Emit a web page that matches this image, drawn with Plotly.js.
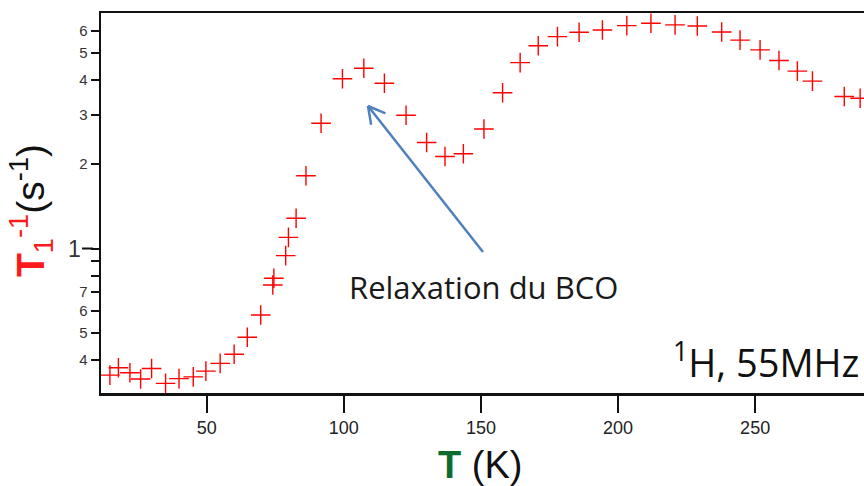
<!DOCTYPE html>
<html>
<head>
<meta charset="utf-8">
<script src="https://cdn.plot.ly/plotly-3.0.1.min.js"></script>
<style>html,body{margin:0;padding:0;background:#fff;}#chart{width:864px;height:486px;}</style>
</head>
<body>
<div id="chart"></div>
<script>
// Temperature (K)
const temperature = [14.7, 17.8, 22.0, 25.9, 29.9, 35.0, 39.9, 45.1, 49.7, 54.9,
  60.0, 64.8, 69.7, 74.1, 74.5, 78.8, 79.8, 82.6, 86.2, 91.7,
  99.5, 107.3, 114.8, 122.7, 130.2, 136.9, 143.6, 151.1, 157.9, 164.3,
  170.9, 177.9, 185.8, 194.3, 203.2, 212.0, 220.8, 228.9, 237.8, 244.5,
  251.8, 258.7, 265.4, 270.9, 282.5, 288.3];
// 1/T1 (s^-1)
const rate = [0.353, 0.375, 0.360, 0.342, 0.373, 0.330, 0.343, 0.348, 0.365, 0.389,
  0.419, 0.482, 0.579, 0.741, 0.783, 0.943, 1.096, 1.282, 1.820, 2.80,
  4.04, 4.40, 3.89, 2.99, 2.39, 2.13, 2.18, 2.67, 3.60, 4.61,
  5.30, 5.71, 5.92, 6.03, 6.25, 6.37, 6.29, 6.23, 5.93, 5.55,
  5.12, 4.69, 4.30, 3.96, 3.49, 3.44];

const xTickVals = [50, 100, 150, 200, 250];
const xTickText = ["50", "100", "150", "200", "250"];
const yTickVals = [0.4, 0.5, 0.6, 0.7, 0.8, 0.9, 1, 2, 3, 4, 5, 6];
const yTickText = ["4", "5", "6", "7", "", "", "", "2", "3", "4", "5", "6"];
const yMajorLabel = "1";

const W = 864, H = 486;
const M = {l: 101, r: 0, t: 13, b: 93};
const pw = W - M.l - M.r, ph = H - M.t - M.b;
const px = x => (x - M.l) / pw;
const py = y => (H - M.b - y) / ph;
const yRange = [-0.516, 0.841];

const arrowColor = '#4f81bd';
const tip = [368, 106], tail = [483, 252];
const dx = tail[0] - tip[0], dy = tail[1] - tip[1];
const len = Math.hypot(dx, dy);
const ux = dx / len, uy = dy / len;
function rot(a) { return [ux * Math.cos(a) - uy * Math.sin(a), ux * Math.sin(a) + uy * Math.cos(a)]; }
const a1 = rot(0.5), a2 = rot(-0.5), armLen = 19;

const oneY = (0 - yRange[0]) / (yRange[1] - yRange[0]);

const shapes = [
  {type: 'line', xref: 'paper', yref: 'paper', x0: px(tail[0]), y0: py(tail[1]), x1: px(tip[0]), y1: py(tip[1]), line: {color: arrowColor, width: 2.5}},
  {type: 'line', xref: 'paper', yref: 'paper', x0: px(tip[0]), y0: py(tip[1]), x1: px(tip[0] + a1[0] * armLen), y1: py(tip[1] + a1[1] * armLen), line: {color: arrowColor, width: 2.5}},
  {type: 'line', xref: 'paper', yref: 'paper', x0: px(tip[0]), y0: py(tip[1]), x1: px(tip[0] + a2[0] * armLen), y1: py(tip[1] + a2[1] * armLen), line: {color: arrowColor, width: 2.5}},
  {type: 'line', xref: 'paper', yref: 'paper', x0: px(82), x1: px(93), y0: oneY, y1: oneY, line: {color: '#111', width: 2}}
];

const annotations = [
  {xref: 'paper', yref: 'paper', x: px(483), y: py(287), text: 'Relaxation du BCO', showarrow: false,
   xanchor: 'center', yanchor: 'middle', font: {family: 'Open Sans', size: 31, color: '#1a1a1a'}},
  {xref: 'paper', yref: 'paper', x: px(861), y: py(360), text: '<sup>1</sup>H, 55MHz', showarrow: false,
   xanchor: 'right', yanchor: 'middle', font: {family: 'Open Sans', size: 38, color: '#111'}},
  {xref: 'paper', yref: 'paper', x: px(480), y: py(465), text: "<span style='color:#0b6b2f'><b>T</b></span> (K)", showarrow: false,
   xanchor: 'center', yanchor: 'middle', font: {family: 'Liberation Sans Narrow, Liberation Sans, Arial', size: 38, color: '#111'}},
  {xref: 'paper', yref: 'paper', x: px(31), y: py(211), textangle: -90,
   text: "<span style='color:#ff1a1a'><b>T</b><sub>1</sub><sup>-1</sup></span>(s<sup>-1</sup>)", showarrow: false,
   xanchor: 'center', yanchor: 'middle', font: {family: 'Liberation Sans, Arial', size: 39, color: '#111'}},
  {xref: 'paper', yref: 'paper', x: px(83), y: oneY, text: yMajorLabel, showarrow: false,
   xanchor: 'right', yanchor: 'middle', font: {family: 'Liberation Sans, Arial', size: 23, color: '#333'}}
];

const trace = {
  x: temperature, y: rate, type: 'scatter', mode: 'markers',
  marker: {symbol: 'cross-thin-open', size: 14, color: '#ff0000', line: {color: '#ff0000', width: 1.4}},
  hoverinfo: 'skip'
};

const layout = {
  width: W, height: H, margin: M,
  paper_bgcolor: '#fff', plot_bgcolor: '#fff', showlegend: false,
  xaxis: {
    range: [11.45, 289.7], showgrid: false, zeroline: false,
    showline: true, linecolor: '#111', linewidth: 2.5, mirror: true,
    ticks: 'outside', ticklen: 17, tickwidth: 2, tickcolor: '#111',
    tickmode: 'array', tickvals: xTickVals, ticktext: xTickText,
    ticklabelstandoff: 0,
    tickfont: {family: 'Liberation Sans Narrow, Liberation Sans, Arial', size: 18, color: '#222'}
  },
  yaxis: {
    type: 'log', range: yRange, showgrid: false, zeroline: false,
    showline: true, linecolor: '#111', linewidth: 2.5, mirror: false,
    ticks: 'outside', ticklen: 8, tickwidth: 2, tickcolor: '#111',
    tickmode: 'array', tickvals: yTickVals, ticktext: yTickText,
    tickfont: {family: 'Liberation Sans, Arial', size: 15, color: '#333'}
  },
  shapes: shapes,
  annotations: annotations
};

Plotly.newPlot('chart', [trace], layout, {displayModeBar: false, staticPlot: true});
</script>
</body>
</html>
